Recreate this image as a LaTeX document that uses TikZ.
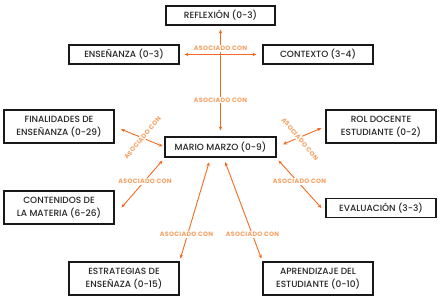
\documentclass[tikz,border=0pt]{standalone}
\usepackage{fontspec}
\setmainfont{Poppins}
\newfontfamily\boxfont{Poppins Medium}
\newfontfamily\labfont[LetterSpace=5]{Poppins Bold}
\usetikzlibrary{arrows.meta}
\definecolor{lineor}{HTML}{F26A21}
\definecolor{labor}{HTML}{F7A060}
\begin{document}
\begin{tikzpicture}[x=1pt,y=-1pt,
 box/.style={draw=black!90, line width=1.1pt, fill=white, minimum width=110pt, align=center, inner sep=0pt, font=\boxfont\fontsize{9}{12.7}\selectfont, text=black!85},
 onebox/.style={box, minimum height=19pt},
 twobox/.style={box, minimum height=33pt},
 conn/.style={draw=lineor, line width=0.9pt, {Stealth[length=4pt,width=3.5pt]}-{Stealth[length=4pt,width=3.5pt]}},
 lab/.style={text=labor, font=\labfont\fontsize{6.3}{6.5}\selectfont, fill=white, inner sep=1pt}]
\useasboundingbox (0,0) rectangle (440,299);
\node[onebox, minimum width=109pt] (refl) at (220.5,15.5) {REFLEXIÓN (0-3)};
\node[onebox] (ens) at (124,54.5) {ENSEÑANZA (0-3)};
\node[onebox] (ctx) at (318,54.5) {CONTEXTO (3-4)};
\node[twobox] (fin) at (59,126.5) {FINALIDADES DE\\ENSEÑANZA (0-29)};
\node[twobox] (rol) at (381,126.5) {ROL DOCENTE\\ESTUDIANTE (0-2)};
\node[box, minimum width=111pt, minimum height=20pt] (mario) at (220.5,147) {MARIO MARZO (0-9)};
\node[twobox] (cont) at (59,207.5) {CONTENIDOS DE\\LA MATERIA (6-26)};
\node[onebox] (eval) at (381,208) {EVALUACIÓN (3-3)};
\node[twobox] (estr) at (124,278.5) {ESTRATEGIAS DE\\ENSEÑAZA (0-15)};
\node[twobox] (apr) at (318,278.5) {APRENDIZAJE DEL\\ESTUDIANTE (0-10)};

\draw[conn, shorten <=4pt, shorten >=6pt] (refl.south) -- (mario.north);
\draw[conn, shorten <=5pt, shorten >=6pt] (ens.east) -- (ctx.west);
\draw[conn, shorten <=7pt, shorten >=2pt] (fin.east) -- (mario.west);
\draw[conn, shorten <=4.5pt, shorten >=7pt] (rol.west) -- (mario.east);
\draw[conn] ([xshift=7pt]cont.east) -- ([shift={(-2,3)}]mario.south west);
\draw[conn] ([shift={(2,3)}]mario.south east) -- ([xshift=-4pt]eval.west);
\draw[conn, shorten <=3pt, shorten >=5pt] (estr.north east) -- ([xshift=-10pt]mario.south);
\draw[conn, shorten <=5pt, shorten >=3pt] ([xshift=3pt]mario.south) -- (apr.north west);

\node[lab] (l1) at (220.5,48.5) {ASOCIADO CON};
\node[lab] (l2) at (220.5,100) {ASOCIADO CON};
\node[lab, rotate=50] (l3) at (142.5,138) {ASOCIADO CON};
\node[lab, rotate=-50] (l4) at (300,139) {ASOCIADO CON};
\node[lab] (l5) at (145,181.5) {ASOCIADO CON};
\node[lab] (l6) at (299.5,181.5) {ASOCIADO CON};
\node[lab] (l7) at (186.5,234.5) {ASOCIADO CON};
\node[lab] (l8) at (252.5,234.5) {ASOCIADO CON};
\end{tikzpicture}
\end{document}
